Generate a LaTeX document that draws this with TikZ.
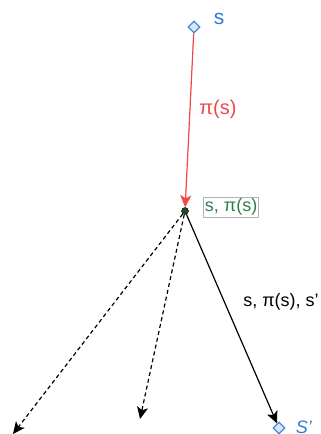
\documentclass[tikz,border=0pt]{standalone}
\usepackage{fontspec}
\setmainfont{Liberation Sans}
\usetikzlibrary{arrows.meta,shapes.geometric}
\definecolor{sblue}{HTML}{2D7BD4}
\definecolor{dfill}{HTML}{DAE8FC}
\definecolor{dline}{HTML}{4A86D8}
\definecolor{pired}{HTML}{F04848}
\definecolor{sgreen}{HTML}{2E7D4A}
\begin{document}
\begin{tikzpicture}[x=1pt,y=-1pt,
  state/.style={diamond,draw=dline,fill=dfill,line width=1.2pt,minimum width=12pt,minimum height=12pt,inner sep=0pt},
  lab/.style={font=\fontsize{18pt}{20pt}\selectfont,inner sep=1pt},
  arr/.style={-{Stealth[length=12pt,width=11pt,inset=3pt]},line width=1.2pt},
  dash arr/.style={arr,dash pattern=on 4pt off 3pt}]
\useasboundingbox (0,0) rectangle (321,434);
\node[state] (s) at (194,27) {};
\node[lab,text=sblue,anchor=center,font=\fontsize{21pt}{23pt}\selectfont] (slab) at (219,19) {s};
\node[circle,fill=sgreen!60!black,draw=black,inner sep=0pt,minimum size=7pt] (sa) at (185,211) {};
\node[lab,text=sgreen,draw=gray!60,line width=0.7pt,anchor=west,inner sep=1.5pt] (salab) at (203,207) {s, π(s)};
\node[state] (sp) at (279,428) {};
\node[lab,text=sblue,anchor=center] (splab) at (304,427) {\textit{S'}};
\coordinate (d1) at (13,434);
\coordinate (d2) at (140,419);
\draw[arr,draw=pired,fill=pired] (s) -- (sa);
\node[lab,text=pired,font=\fontsize{20pt}{22pt}\selectfont] (pi) at (218,109) {π(s)};
\draw[arr] (sa) -- (sp);
\node[lab] (tl) at (281,302) {s, π(s), s'};
\draw[dash arr] (sa) -- (d1);
\draw[dash arr] (sa) -- (d2);
\end{tikzpicture}
\end{document}
